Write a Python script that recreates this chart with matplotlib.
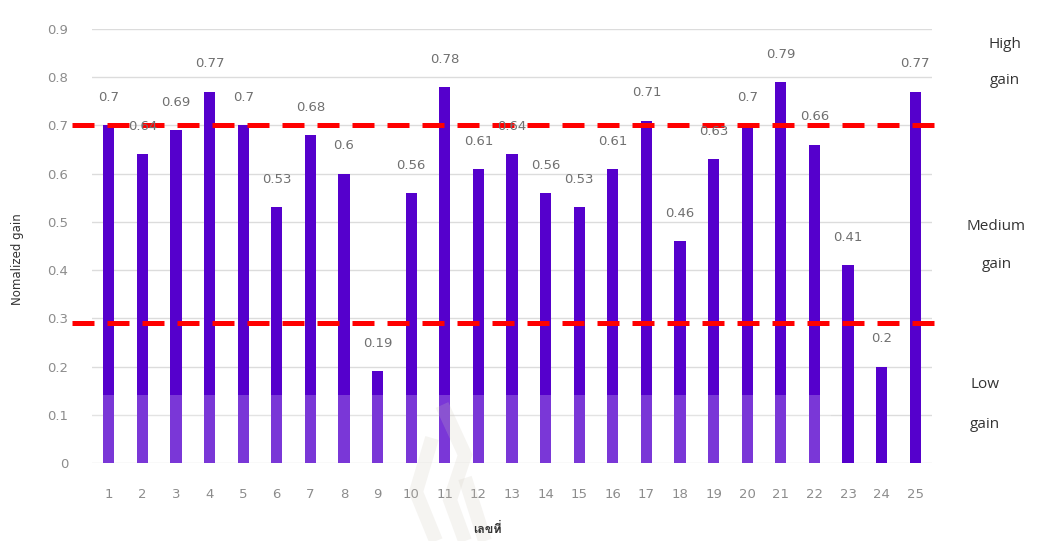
import matplotlib
matplotlib.use('Agg')
import matplotlib.pyplot as plt
from matplotlib import font_manager
from matplotlib.lines import Line2D
from matplotlib.patches import Rectangle
from fontTools.ttLib import TTFont

# ข้อมูล normalized gain ของนักเรียนแต่ละคน
students = list(range(1, 26))
gains = [0.7, 0.64, 0.69, 0.77, 0.7, 0.53, 0.68, 0.6, 0.19, 0.56,
         0.78, 0.61, 0.64, 0.56, 0.53, 0.61, 0.71, 0.46, 0.63, 0.7,
         0.79, 0.66, 0.41, 0.2, 0.77]
yticks = [0, 0.1, 0.2, 0.3, 0.4, 0.5, 0.6, 0.7, 0.8, 0.9]
ytick_labels = ['0', '0.1', '0.2', '0.3', '0.4', '0.5', '0.6', '0.7', '0.8', '0.9']
high_cut = 0.7
low_cut = 0.29
zones = [('High', 'gain'), ('Medium', 'gain'), ('Low', 'gain')]


def thai_font():
    '''
    หาฟอนต์ที่มีอักษรไทย
    '''
    for f in font_manager.fontManager.ttflist:
        try:
            font = TTFont(f.fname, fontNumber=0, lazy=True)
            cmap = font.getBestCmap()
            if cmap and 0x0E40 in cmap and 0x0E17 in cmap:
                return f.name
        except Exception:
            pass
    return 'DejaVu Sans'


W, H = 1039, 541


def fx(px):
    return px / W


def fy(py):
    return 1 - py / H


fig = plt.figure(figsize=(10.39, 5.41), dpi=100)
ax = fig.add_axes([fx(92), fy(463), fx(932) - fx(92), fy(29) - fy(463)])

ax.set_xlim(0.5, 25.5)
ax.set_ylim(0, 0.9)
for s in ax.spines.values():
    s.set_visible(False)
ax.set_yticks(yticks)
ax.set_yticklabels(ytick_labels)
ax.set_xticks(students)
ax.tick_params(length=0, labelsize=9.5, colors='#8c8c8c')
ax.tick_params(axis='y', pad=17)
ax.tick_params(axis='x', pad=18)
ax.yaxis.grid(True, color='#dcdcdc', lw=1)
ax.set_axisbelow(True)

ax.bar(students, gains, width=0.33, color='#5500cc', zorder=2)

# แถบสีจางด้านล่างแท่ง
ax.add_patch(Rectangle((0.5, 0), 22.0, 0.141, facecolor='white',
                       alpha=0.22, edgecolor='none', zorder=3))

for x, g in zip(students, gains):
    ax.annotate(f'{g:g}', (x, g), xytext=(0, 20), textcoords='offset points',
                ha='center', va='center', fontsize=9.5, color='#707070',
                zorder=5)

# เส้นแบ่งระดับ gain
for cut in (high_cut, low_cut):
    ax.plot([-0.1, 25.75], [cut, cut], color='#ff0000', lw=3.6,
            dashes=(4.4, 2.6), clip_on=False, zorder=4)

ax.set_ylabel('Nomalized gain', fontsize=8.5, color='#333333')
ax.yaxis.set_label_coords(-(92 - 24) / 840, 0.47)
fig.text(fx(487), fy(529), 'เลขที่', ha='center', va='center', fontsize=9,
         color='#333333', fontweight='bold',
         family=[thai_font(), 'DejaVu Sans'])

zone_pos = [((1005, 45), (1005, 80)), ((996, 226), (997, 264)),
            ((985, 385), (985, 424))]
for (w1, w2), ((x1, y1), (x2, y2)) in zip(zones, zone_pos):
    fig.text(fx(x1), fy(y1), w1, ha='center', va='center', fontsize=11,
             color='#333333', family='Open Sans')
    fig.text(fx(x2), fy(y2), w2, ha='center', va='center', fontsize=11,
             color='#333333', family='Open Sans')

# ลายน้ำจาง ๆ
marks = [[(432, 438), (416, 492), (436, 541)],
         [(442, 405), (465, 455), (450, 500), (465, 541)],
         [(465, 478), (485, 541)]]
for pts in marks:
    xs = [fx(p[0]) for p in pts]
    ys = [fy(p[1]) for p in pts]
    fig.add_artist(Line2D(xs, ys, transform=fig.transFigure, lw=10,
                          color='#cfc8bc', alpha=0.2,
                          solid_capstyle='butt', solid_joinstyle='miter'))

fig.savefig('out.png', dpi=100)
